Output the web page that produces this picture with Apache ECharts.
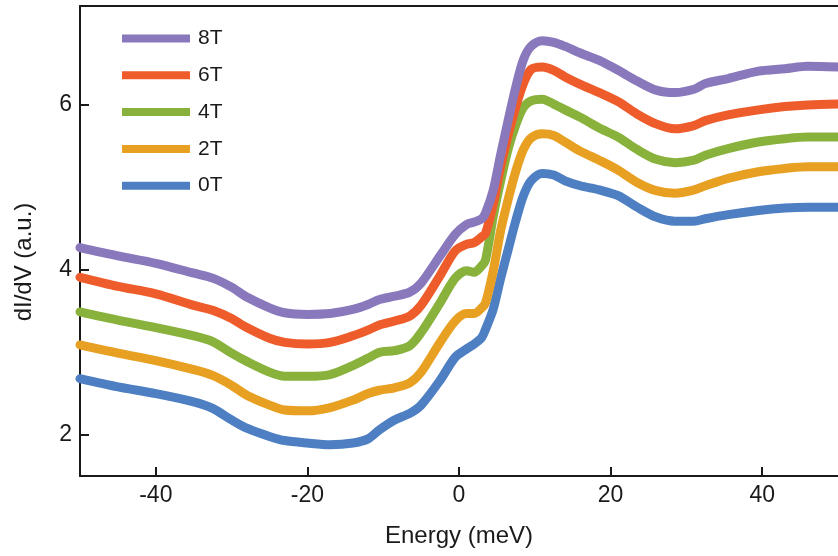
<!DOCTYPE html>
<html>
<head>
<meta charset="utf-8">
<script src="https://cdn.jsdelivr.net/npm/echarts@6/dist/echarts.min.js"></script>
<style>
  html, body { margin: 0; padding: 0; background: #fff; }
  #chart { width: 838px; height: 556px; }
</style>
</head>
<body>
<div id="chart"></div>
<script>
// Bias energies (meV) shared by all spectra
const energy = [-50, -45, -40, -35, -32.5, -30, -28, -25, -23, -20, -17, -14, -12, -10.5, -8.5, -6.5, -5, -2.5, -0.5,
  1, 2, 3, 3.5, 4.5, 5.5, 6.5, 7.5, 8.5, 9.5, 11, 12.5, 14, 16, 18.5, 21, 23.5, 26, 28.5, 31, 32.5, 35.5, 39.5, 43, 46, 50];

// dI/dV spectra (offset) at each magnetic field
const field0T = [2.68, 2.58, 2.50, 2.40, 2.32, 2.18, 2.08, 1.98, 1.93, 1.90, 1.88, 1.90, 1.95, 2.06, 2.18, 2.26, 2.36, 2.66, 2.94,
  3.04, 3.10, 3.18, 3.28, 3.52, 3.90, 4.25, 4.60, 4.90, 5.08, 5.17, 5.15, 5.08, 5.02, 4.97, 4.90, 4.76, 4.64, 4.59, 4.59, 4.62, 4.67, 4.72, 4.75, 4.76, 4.76];
const field2T = [3.09, 2.99, 2.90, 2.79, 2.72, 2.60, 2.48, 2.36, 2.30, 2.29, 2.33, 2.42, 2.50, 2.54, 2.57, 2.63, 2.76, 3.12, 3.38,
  3.47, 3.47, 3.54, 3.60, 3.98, 4.48, 4.86, 5.20, 5.46, 5.60, 5.65, 5.63, 5.55, 5.44, 5.33, 5.21, 5.06, 4.96, 4.93, 4.97, 5.02, 5.11, 5.19, 5.23, 5.25, 5.25];
const field4T = [3.49, 3.39, 3.30, 3.20, 3.13, 2.99, 2.89, 2.76, 2.71, 2.71, 2.73, 2.84, 2.93, 3.00, 3.02, 3.08, 3.24, 3.60, 3.90,
  3.99, 3.97, 4.05, 4.12, 4.64, 5.08, 5.47, 5.76, 5.97, 6.05, 6.07, 6.01, 5.94, 5.85, 5.72, 5.61, 5.46, 5.34, 5.30, 5.33, 5.39, 5.47, 5.55, 5.59, 5.61, 5.61];
const field6T = [3.91, 3.80, 3.71, 3.57, 3.51, 3.41, 3.30, 3.17, 3.12, 3.10, 3.12, 3.20, 3.27, 3.33, 3.38, 3.44, 3.57, 3.93, 4.23,
  4.31, 4.33, 4.40, 4.44, 4.79, 5.25, 5.64, 5.98, 6.26, 6.43, 6.46, 6.42, 6.34, 6.25, 6.15, 6.04, 5.89, 5.77, 5.71, 5.75, 5.81, 5.88, 5.94, 5.98, 6.00, 6.01];
const field8T = [4.27, 4.17, 4.08, 3.96, 3.90, 3.79, 3.67, 3.54, 3.48, 3.46, 3.47, 3.52, 3.58, 3.64, 3.68, 3.73, 3.84, 4.17, 4.43,
  4.55, 4.58, 4.62, 4.69, 4.96, 5.40, 5.82, 6.22, 6.55, 6.71, 6.78, 6.76, 6.71, 6.63, 6.54, 6.42, 6.29, 6.18, 6.15, 6.19, 6.26, 6.32, 6.41, 6.44, 6.47, 6.46];

const seriesNames = ['0T', '2T', '4T', '6T', '8T'];
const seriesValues = [field0T, field2T, field4T, field6T, field8T];
const seriesColors = ['#4d7fc2', '#e8a022', '#89b23d', '#ee5c2b', '#8a78bd'];

const xTicks = [-40, -20, 0, 20, 40];
const yTicks = [2, 4, 6];

const font = '"Liberation Sans", Arial, Helvetica, sans-serif';
const ink = '#1a1a1a';

const chart = echarts.init(document.getElementById('chart'), null, { renderer: 'canvas' });

chart.setOption({
  backgroundColor: '#ffffff',
  animation: false,
  textStyle: { fontFamily: font },
  grid: { left: 80, right: 0, top: 6, bottom: 80, containLabel: false },
  legend: {
    data: seriesNames.slice().reverse(),
    orient: 'vertical',
    left: 117,
    top: 23,
    icon: 'rect',
    itemWidth: 68,
    itemHeight: 8,
    itemGap: 15.8,
    textStyle: { fontFamily: font, fontSize: 21, color: ink, lineHeight: 20, padding: [0, 0, 0, 3] }
  },
  xAxis: [{
    type: 'value',
    min: -50,
    max: 50,
    name: 'Energy (meV)',
    nameLocation: 'middle',
    nameGap: 48,
    nameTextStyle: { fontFamily: font, fontSize: 24, color: ink },
    axisLine: { show: true, onZero: false, lineStyle: { color: ink, width: 2 } },
    axisTick: { show: true, inside: true, length: 9, customValues: xTicks, lineStyle: { color: ink, width: 2 } },
    axisLabel: { show: true, margin: 8, customValues: xTicks, fontFamily: font, fontSize: 23, color: ink },
    splitLine: { show: false }
  }, {
    type: 'value',
    position: 'top',
    min: -50,
    max: 50,
    axisLine: { show: true, onZero: false, lineStyle: { color: ink, width: 2 } },
    axisTick: { show: false },
    axisLabel: { show: false },
    splitLine: { show: false }
  }],
  yAxis: {
    type: 'value',
    min: 1.5,
    max: 7.2,
    name: 'dI/dV (a.u.)',
    nameLocation: 'middle',
    nameGap: 44,
    nameTextStyle: { fontFamily: font, fontSize: 24, color: ink, padding: [0, 42, 0, 0] },
    axisLine: { show: true, onZero: false, lineStyle: { color: ink, width: 2 } },
    axisTick: { show: true, inside: true, length: 9, customValues: yTicks, lineStyle: { color: ink, width: 2 } },
    axisLabel: { show: true, margin: 8, customValues: yTicks, fontFamily: font, fontSize: 23, color: ink },
    splitLine: { show: false }
  },
  series: seriesNames.map((name, i) => ({
    name: name,
    type: 'line',
    xAxisIndex: 0,
    data: energy.map((e, k) => [e, seriesValues[i][k]]),
    smooth: 0.3,
    showSymbol: false,
    symbol: 'none',
    clip: true,
    lineStyle: { color: seriesColors[i], width: 9, cap: 'round', join: 'round' },
    itemStyle: { color: seriesColors[i] }
  }))
});
</script>
</body>
</html>
